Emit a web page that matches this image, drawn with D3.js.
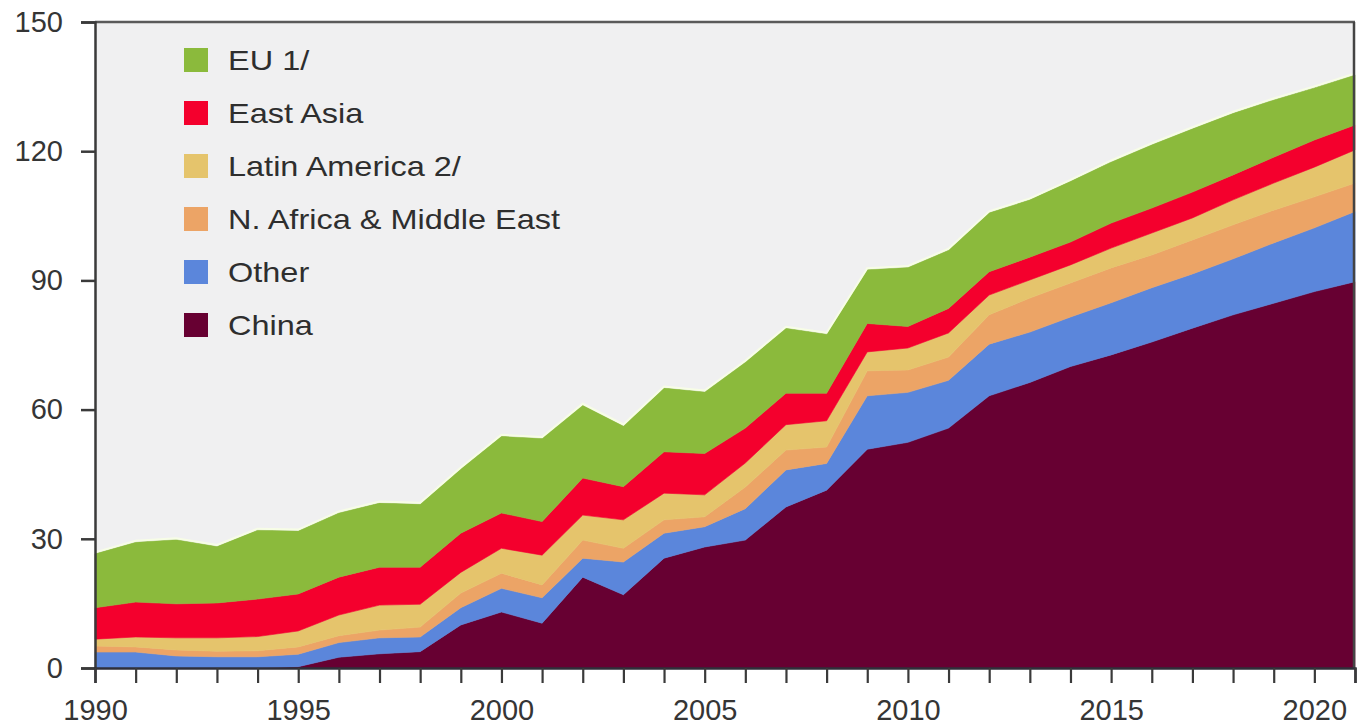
<!DOCTYPE html>
<html>
<head>
<meta charset="utf-8">
<script src="https://cdn.jsdelivr.net/npm/d3@7"></script>
<style>
  html, body { margin: 0; padding: 0; background: #ffffff; }
  svg { display: block; }
  text { font-family: "Liberation Sans", Arial, Helvetica, sans-serif; }
</style>
</head>
<body>
<svg id="chart" width="1357" height="725"></svg>
<script>
// ---- Data ----
const years = [1990,1991,1992,1993,1994,1995,1996,1997,1998,1999,2000,2001,2002,2003,2004,2005,
               2006,2007,2008,2009,2010,2011,2012,2013,2014,2015,2016,2017,2018,2019,2020,2021];

const china      = [0,0,0,0,0,0.3,2.5,3.3,3.8,10.0,13.0,10.4,21.1,17.0,25.5,28.1,
                    29.7,37.4,41.3,50.8,52.4,55.7,63.2,66.3,70.0,72.7,75.7,78.9,82.0,84.7,87.4,89.7];
const other      = [3.7,3.7,2.8,2.6,2.6,2.9,3.4,3.7,3.4,4.0,5.5,5.9,4.4,7.6,5.8,4.7,
                    7.3,8.6,6.2,12.4,11.6,11.1,12.0,11.7,11.5,12.1,12.6,12.6,13.0,14.0,14.8,16.3];
const nAfricaME  = [1.4,1.2,1.4,1.3,1.4,1.7,1.6,1.8,2.3,3.4,3.5,3.0,4.2,3.2,3.1,2.3,
                    5.0,4.6,3.8,5.8,5.2,5.4,6.8,7.9,7.9,8.1,7.6,7.9,7.9,7.6,7.2,6.6];
const latinAm    = [1.6,2.3,2.8,3.1,3.3,3.7,4.8,5.8,5.3,4.8,5.8,6.9,5.8,6.6,6.2,5.1,
                    5.6,5.9,6.1,4.4,5.1,5.6,4.6,4.2,4.2,4.6,5.1,5.1,5.8,6.3,6.9,7.7];
const eastAsia   = [7.3,8.1,7.9,8.1,8.7,8.6,8.8,8.8,8.6,9.1,8.2,7.8,8.6,7.7,9.6,9.6,
                    8.1,7.3,6.4,6.6,5.0,5.7,5.4,5.3,5.3,5.8,5.8,6.0,5.8,6.0,6.3,5.8];
const eu         = [12.5,13.9,14.9,13.1,16.0,14.6,14.9,14.9,14.6,14.9,17.8,19.3,16.9,14.1,14.8,14.3,
                    15.3,15.1,13.7,12.5,13.7,13.5,13.7,13.3,14.1,14.2,14.7,14.7,14.3,13.3,12.1,11.6];

const seriesNames  = ["China", "Other", "N. Africa & Middle East", "Latin America 2/", "East Asia", "EU 1/"];
const seriesValues = [china, other, nAfricaME, latinAm, eastAsia, eu];
const seriesColors = ["#670032", "#5b86db", "#eca466", "#e5c46c", "#f4002d", "#8bba3c"];
const legendOrder  = ["EU 1/", "East Asia", "Latin America 2/", "N. Africa & Middle East", "Other", "China"];

const yTicks = [0, 30, 60, 90, 120, 150];
const xLabelYears = [1990, 1995, 2000, 2005, 2010, 2015, 2020];

// ---- Build table ----
const table = years.map((yr, i) => {
  const row = { year: yr };
  seriesNames.forEach((n, k) => row[n] = seriesValues[k][i]);
  return row;
});

const svg = d3.select("#chart");
const margin = { left: 95, right: 2, top: 22, bottom: 57 };
const W = 1357, H = 725;

const x = d3.scaleLinear().domain([1990, 2021]).range([margin.left, W - margin.right]);
const y = d3.scaleLinear().domain([0, 150]).range([H - margin.bottom, margin.top]);

const colorOf = d3.scaleOrdinal().domain(seriesNames).range(seriesColors);

// plot background
svg.append("rect")
  .attr("x", x(1990)).attr("y", y(150))
  .attr("width", x(2021) - x(1990)).attr("height", y(0) - y(150))
  .attr("fill", "#f0f0f1");

// stacked areas
const stacked = d3.stack().keys(seriesNames)(table);
const area = d3.area()
  .x(d => x(d.data.year))
  .y0(d => y(d[0]))
  .y1(d => y(d[1]));

svg.append("g").selectAll("path")
  .data(stacked)
  .join("path")
  .attr("d", area)
  .attr("fill", d => colorOf(d.key))
  .attr("stroke", d => colorOf(d.key))
  .attr("stroke-width", 0.6);

// pale halo on the top edge
const topLine = d3.line()
  .x(d => x(d.data.year))
  .y(d => y(d[1]) - 1.5);
svg.append("path")
  .datum(stacked[stacked.length - 1])
  .attr("d", topLine)
  .attr("fill", "none")
  .attr("stroke", "#f7fde6")
  .attr("stroke-width", 2);

// frame (top and right)
svg.append("line")
  .attr("x1", x(1990)).attr("x2", x(2021))
  .attr("y1", y(150)).attr("y2", y(150))
  .attr("stroke", "#5a5a5a").attr("stroke-width", 2.5);
svg.append("line")
  .attr("x1", x(2021) - 1).attr("x2", x(2021) - 1)
  .attr("y1", y(150)).attr("y2", y(0))
  .attr("stroke", "#444").attr("stroke-width", 2.5);

// y axis
const yAxis = svg.append("g")
  .attr("transform", `translate(${x(1990)},0)`)
  .call(d3.axisLeft(y).tickValues(yTicks).tickSize(14).tickPadding(18).tickFormat(d3.format("d")));
yAxis.select(".domain").attr("stroke", "#3a3a3a").attr("stroke-width", 2.5);
yAxis.selectAll(".tick line").attr("stroke", "#3a3a3a").attr("stroke-width", 2.5);
yAxis.selectAll(".tick text")
  .attr("fill", "#353535")
  .style("font-size", "29px");

// x axis
const xAxis = svg.append("g")
  .attr("transform", `translate(0,${y(0)})`)
  .call(d3.axisBottom(x).tickValues(years).tickSize(15).tickPadding(16)
        .tickFormat(d => xLabelYears.includes(d) ? String(d) : ""));
xAxis.select(".domain").attr("stroke", "#2f2f3a").attr("stroke-width", 2.5);
xAxis.selectAll(".tick line").attr("stroke", "#3a3a3a").attr("stroke-width", 2.2);
xAxis.selectAll(".tick text")
  .attr("fill", "#353535")
  .style("font-size", "29px");

// legend
const legend = svg.append("g");
const legRows = legend.selectAll("g")
  .data(legendOrder)
  .join("g")
  .attr("transform", (d, i) => `translate(184, ${60 + i * 53})`);
legRows.append("rect")
  .attr("x", 0).attr("y", -12)
  .attr("width", 24).attr("height", 24)
  .attr("fill", d => colorOf(d));
legRows.append("text")
  .attr("transform", "translate(44,0) scale(1.16,1)")
  .attr("dy", "0.36em")
  .attr("fill", "#2e2e2e")
  .style("font-size", "28px")
  .text(d => d);
</script>
</body>
</html>
